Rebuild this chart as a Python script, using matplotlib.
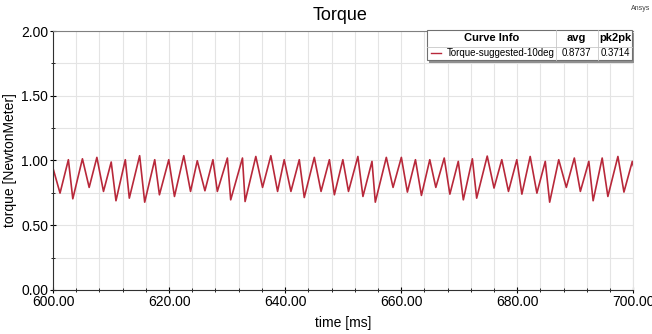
import matplotlib
matplotlib.use("Agg")
import matplotlib.pyplot as plt
from matplotlib.ticker import MultipleLocator, FormatStrFormatter

plt.rcParams['font.family'] = ['Liberation Sans', 'DejaVu Sans']

# Torque waveform (alternating extrema)
time_ms = [600.00, 601.21, 602.65, 603.41, 605.07, 606.23, 607.56, 608.70, 610.03, 610.85,
           612.46, 613.15, 614.93, 615.80, 617.53, 618.34, 619.95, 620.93, 622.54, 623.70,
           624.86, 626.18, 627.56, 628.32, 630.05, 630.62, 632.65, 633.10, 634.95, 636.11,
           637.54, 638.70, 639.84, 641.00, 642.44, 643.30, 645.03, 646.19, 647.63, 648.49,
           649.95, 650.92, 652.54, 653.41, 654.97, 655.54, 657.44, 658.60, 660.03, 661.07,
           662.46, 663.49, 664.93, 665.97, 667.42, 668.39, 669.84, 670.71, 672.27, 673.01,
           674.83, 676.00, 677.34, 678.49, 679.93, 680.80, 682.23, 683.39, 684.83, 685.59,
           687.15, 688.46, 689.84, 690.88, 692.34, 693.08, 694.64, 695.62, 697.35, 698.39,
           699.83, 700.00]
torque = [0.940, 0.748, 1.006, 0.704, 1.013, 0.792, 1.024, 0.761, 0.988, 0.689,
          1.006, 0.709, 1.037, 0.678, 1.006, 0.735, 1.006, 0.722, 1.037, 0.761,
          0.998, 0.766, 1.006, 0.761, 1.019, 0.696, 1.019, 0.683, 1.031, 0.792,
          1.037, 0.761, 1.006, 0.761, 1.006, 0.714, 1.024, 0.761, 1.006, 0.735,
          1.006, 0.761, 1.031, 0.722, 0.993, 0.678, 1.024, 0.792, 1.024, 0.756,
          1.006, 0.730, 1.006, 0.792, 1.019, 0.740, 0.993, 0.696, 1.013, 0.709,
          1.034, 0.787, 1.006, 0.761, 1.006, 0.740, 1.031, 0.748, 0.993, 0.678,
          1.006, 0.792, 1.019, 0.761, 0.993, 0.689, 1.019, 0.722, 1.031, 0.756,
          0.993, 0.960]

curve_name = "Torque-suggested-10deg"
curve_avg = "0.8737"
curve_pk2pk = "0.3714"
line_color = "#b8283a"

fig = plt.figure(figsize=(6.52, 3.34), dpi=100)
ax = fig.add_axes([0.0813, 0.132, 0.890, 0.775])

ax.plot(time_ms, torque, color=line_color, lw=1.2, solid_joinstyle='round')

ax.set_xlim(600, 700)
ax.set_ylim(0, 2)
ax.xaxis.set_major_locator(MultipleLocator(20))
ax.xaxis.set_minor_locator(MultipleLocator(4))
ax.yaxis.set_major_locator(MultipleLocator(0.5))
ax.yaxis.set_minor_locator(MultipleLocator(0.25))
ax.xaxis.set_major_formatter(FormatStrFormatter('%.2f'))
ax.yaxis.set_major_formatter(FormatStrFormatter('%.2f'))
ax.grid(True, which='both', color='#e4e4e4', lw=0.8)
ax.set_axisbelow(True)
ax.tick_params(which='major', direction='inout', length=5, width=0.8, labelsize=10, pad=1)
ax.tick_params(which='minor', direction='inout', length=3, width=0.6)

for s in ['left', 'bottom']:
    ax.spines[s].set_color('#303030')
ax.spines['top'].set_color('#808080')
ax.spines['right'].set_color('#e4e4e4')

ax.set_xlabel("time [ms]", fontsize=10, labelpad=5)
ax.set_ylabel("torque [NewtonMeter]", fontsize=10, labelpad=3)
fig.text(0.522, 0.955, "Torque", ha='center', va='center', fontsize=13)
fig.text(0.998, 0.985, "Ansys", ha='right', va='top', fontsize=5, color='#404040')

# curve info table in the upper right corner
x0, x1, x2, x3 = 0.655, 0.852, 0.917, 0.970
ytop, ymid, ybot = 0.910, 0.860, 0.820
fig.patches.append(plt.Rectangle((x0 + 0.003, ybot - 0.008), x3 - x0, ytop - ybot,
                                 transform=fig.transFigure, facecolor='#909090',
                                 edgecolor='none', zorder=5))
fig.patches.append(plt.Rectangle((x0, ybot), x3 - x0, ytop - ybot,
                                 transform=fig.transFigure, facecolor='white',
                                 edgecolor='#707070', lw=0.8, zorder=6))
for xs in [x1, x2]:
    fig.lines.append(plt.Line2D([xs, xs], [ybot, ytop], transform=fig.transFigure,
                                color='#c8c8c8', lw=0.6, zorder=7))
fig.lines.append(plt.Line2D([x0, x3], [ymid, ymid], transform=fig.transFigure,
                            color='#c8c8c8', lw=0.6, zorder=7))
hy = (ytop + ymid) / 2
ry = (ymid + ybot) / 2
fig.text((x0 + x1) / 2, hy, "Curve Info", ha='center', va='center', fontsize=8,
         fontweight='bold', zorder=8)
fig.text((x1 + x2) / 2, hy, "avg", ha='center', va='center', fontsize=8,
         fontweight='bold', zorder=8)
fig.text((x2 + x3) / 2, hy, "pk2pk", ha='center', va='center', fontsize=8,
         fontweight='bold', zorder=8)
fig.lines.append(plt.Line2D([x0 + 0.006, x0 + 0.022], [ry, ry], transform=fig.transFigure,
                            color=line_color, lw=1.0, zorder=8))
fig.text(x0 + 0.030, ry, curve_name, ha='left', va='center', fontsize=7, zorder=8)
fig.text((x1 + x2) / 2, ry, curve_avg, ha='center', va='center', fontsize=7, zorder=8)
fig.text((x2 + x3) / 2, ry, curve_pk2pk, ha='center', va='center', fontsize=7, zorder=8)

fig.savefig("out.png", dpi=100)
